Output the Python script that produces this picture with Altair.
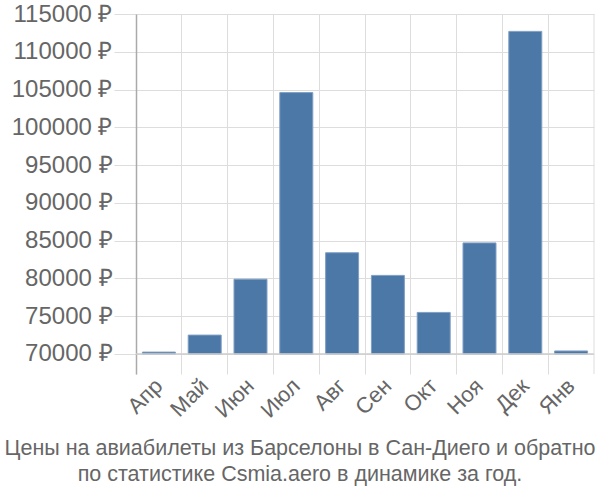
import altair as alt
import pandas as pd

months = ["Апр", "Май", "Июн", "Июл", "Авг", "Сен", "Окт", "Ноя", "Дек", "Янв"]
prices = [70250, 72500, 79900, 104600, 83400, 80400, 75500, 84700, 112700, 70400]
baseline = 70000
y_ticks = [70000, 75000, 80000, 85000, 90000, 95000, 100000, 105000, 110000, 115000]
title_lines = ["Цены на авиабилеты из Барселоны в Сан-Диего и обратно",
               "по статистике Csmia.aero в динамике за год."]

df = pd.DataFrame({"month": months, "price": prices, "base": [baseline] * len(months)})

W, H = 458, 360
font = "Liberation Sans"
grey = "#666666"

x_enc = alt.X("month:N", sort=months, title=None,
              scale=alt.Scale(paddingInner=0, paddingOuter=0),
              axis=alt.Axis(labelAngle=-45, labelFontSize=22, labelColor=grey, labelFont=font,
                            bandPosition=0, grid=True, gridColor="#dddddd", gridWidth=1,
                            ticks=False, domain=False, labelPadding=8, labelAlign="right",
                            labelBaseline="middle", labelOffset=0, labelOverlap=False))
y_scale = alt.Scale(domain=[67350, 115000], nice=False, zero=False)
y_axis = alt.Axis(values=y_ticks, labelExpr="datum.value + ' ₽'", labelFontSize=24,
                  labelColor=grey, labelFont=font, grid=True, gridColor="#dddddd",
                  ticks=True, tickColor="#dddddd", tickSize=22, tickWidth=1,
                  domainColor="#aaaaaa", domainWidth=1.5, labelPadding=2,
                  labelOverlap=False)

bars = alt.Chart(df).mark_bar(width=alt.RelativeBandSize(0.72), color="#4c78a8",
                              stroke="#7f9fc4", strokeWidth=1).encode(
    x=x_enc,
    y=alt.Y("price:Q", scale=y_scale, title=None, axis=y_axis),
    y2="base:Q",
)

base_rule = alt.Chart(df).mark_rule(color="#cccccc", strokeWidth=1.5).encode(
    y=alt.Y("b:Q", scale=y_scale, title=None, axis=y_axis), x=alt.value(0), x2=alt.value(W)
).transform_aggregate(b="min(base)")

right_rule = alt.Chart(df).mark_rule(color="#dddddd", strokeWidth=1).encode(
    x=alt.value(W), y=alt.value(0), y2=alt.value(H)
).transform_aggregate(c="count()")

chart = alt.layer(bars, base_rule, right_rule).properties(
    width=W, height=H,
    padding={"left": 136, "top": 14, "right": 6, "bottom": 126},
    autosize=alt.AutoSizeParams(type="none"),
    title=alt.TitleParams(text=title_lines, orient="bottom", anchor="middle", frame="group",
                          fontSize=21.5, font=font, color=grey, fontWeight="normal",
                          lineHeight=26, dx=-65, offset=17),
).configure_view(stroke=None)

chart.save("out.html", embed_options={"renderer": "svg", "actions": False})
